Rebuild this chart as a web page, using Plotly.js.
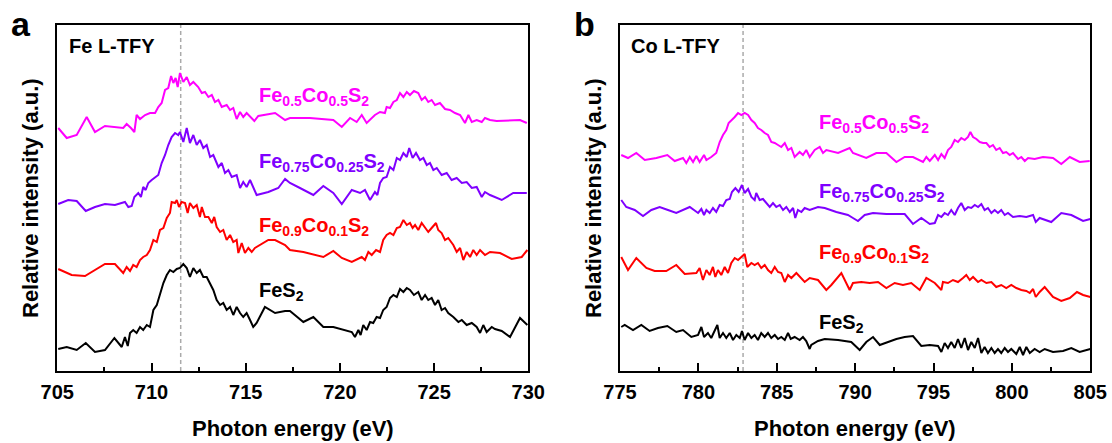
<!DOCTYPE html>
<html>
<head>
<meta charset="utf-8">
<script src="https://cdn.plot.ly/plotly-3.0.1.min.js"></script>
<style>html,body{margin:0;padding:0;background:#fff}#chart{width:1112px;height:443px}</style>
</head>
<body>
<div id="chart"></div>
<script>
// ---------- Panel a: Fe L-edge TFY (photon energy eV, relative intensity a.u.) ----------
const feL_E_05 = [705.05,705.50,706.03,706.56,707.00,707.53,708.50,708.68,708.91,709.09,709.21,709.39,709.66,709.92,710.19,710.36,710.54,710.72,710.89,711.04,711.16,711.28,711.39,711.51,711.69,711.87,712.04,712.22,712.48,712.67,712.84,713.02,713.20,713.37,713.55,713.73,713.99,714.17,714.34,714.52,714.70,714.87,715.05,715.23,715.46,715.67,716.56,717.09,717.35,718.41,719.65,720.10,720.54,720.89,721.16,721.42,721.60,721.86,722.13,722.39,722.48,722.66,722.84,723.02,723.19,723.37,723.55,723.72,723.93,724.16,724.34,724.52,724.69,724.87,725.05,725.31,725.58,725.84,726.11,726.38,726.64,726.82,727.00,727.26,727.53,727.70,727.97,728.32,729.56,729.92];
const feL_I_05 = [2.43,2.33,2.36,2.54,2.39,2.45,2.43,2.47,2.43,2.39,2.56,2.52,2.56,2.58,2.58,2.64,2.68,2.81,2.83,2.95,2.88,2.93,2.84,2.98,2.89,2.94,2.86,2.89,2.84,2.78,2.79,2.74,2.76,2.69,2.71,2.64,2.66,2.61,2.63,2.52,2.59,2.54,2.58,2.54,2.50,2.55,2.58,2.51,2.53,2.53,2.51,2.44,2.53,2.49,2.56,2.48,2.51,2.56,2.59,2.58,2.64,2.63,2.69,2.71,2.78,2.74,2.79,2.76,2.80,2.78,2.71,2.74,2.69,2.71,2.66,2.68,2.62,2.61,2.58,2.56,2.48,2.56,2.49,2.51,2.49,2.53,2.51,2.50,2.51,2.48];

const feL_E_075 = [705.05,705.58,706.03,706.51,707.00,707.53,708.06,708.59,708.77,708.95,709.09,709.30,709.44,709.56,709.69,709.83,710.01,710.19,710.36,710.54,710.72,710.89,711.07,711.25,711.42,711.51,711.69,711.87,712.04,712.22,712.40,712.57,712.75,712.93,713.11,713.28,713.55,713.73,713.90,714.08,714.26,714.52,714.70,714.87,715.05,715.23,715.40,715.58,716.20,716.73,717.09,717.35,717.88,718.59,719.12,719.65,720.10,720.63,721.07,721.33,721.60,721.86,721.99,722.13,722.30,722.48,722.66,722.84,723.02,723.19,723.37,723.55,723.68,723.86,724.04,724.25,724.43,724.61,724.78,724.96,725.14,725.40,725.67,725.93,726.20,726.47,726.73,727.00,727.26,727.53,727.70,727.97,728.59,729.20,729.92];
const feL_I_075 = [1.67,1.71,1.70,1.60,1.64,1.67,1.66,1.69,1.64,1.65,1.74,1.78,1.74,1.84,1.81,1.88,1.91,1.94,1.96,2.08,2.16,2.26,2.34,2.38,2.36,2.39,2.29,2.43,2.28,2.36,2.26,2.31,2.23,2.26,2.14,2.16,2.04,2.08,1.98,2.01,1.94,1.96,1.83,1.89,1.84,1.91,1.83,1.76,1.79,1.83,1.92,1.88,1.83,1.76,1.85,1.78,1.67,1.81,1.78,1.81,1.71,1.79,1.76,1.88,1.93,1.94,2.04,2.01,2.13,2.11,2.18,2.14,2.23,2.13,2.18,2.11,2.13,2.06,2.08,2.01,2.03,1.96,1.98,1.91,1.93,1.88,1.89,1.83,1.84,1.74,1.79,1.76,1.71,1.78,1.78];

const feL_E_09 = [705.05,705.76,706.47,707.53,708.06,708.50,708.68,708.86,709.03,709.21,709.39,709.56,709.75,709.92,710.10,710.28,710.45,710.63,710.81,710.98,711.07,711.25,711.34,711.46,711.60,711.78,711.92,712.04,712.22,712.40,712.57,712.67,712.84,713.02,713.20,713.33,713.46,713.64,713.81,713.99,714.17,714.34,714.52,714.61,714.79,714.96,715.14,715.32,715.49,716.20,716.56,717.09,717.35,718.06,719.12,719.65,720.10,720.63,721.16,721.33,721.51,721.69,721.92,722.13,722.30,722.48,722.66,722.84,723.02,723.19,723.37,723.55,723.72,723.86,723.99,724.16,724.34,724.52,724.69,724.87,725.10,725.22,725.40,725.58,725.75,726.02,726.20,726.38,726.55,726.73,726.91,727.08,727.26,727.44,727.70,727.97,728.50,729.12,729.65,729.95];
const feL_I_09 = [1.02,0.96,0.95,1.07,1.07,0.98,1.04,1.00,1.06,1.04,1.11,1.14,1.16,1.21,1.31,1.29,1.41,1.43,1.53,1.58,1.69,1.68,1.71,1.64,1.69,1.68,1.58,1.68,1.63,1.66,1.54,1.64,1.54,1.54,1.48,1.54,1.44,1.39,1.41,1.31,1.36,1.29,1.31,1.18,1.28,1.18,1.23,1.19,1.23,1.31,1.31,1.26,1.21,1.19,1.14,1.20,1.13,1.09,1.14,1.11,1.19,1.16,1.21,1.19,1.31,1.36,1.38,1.36,1.43,1.44,1.51,1.46,1.48,1.43,1.46,1.41,1.48,1.43,1.39,1.43,1.48,1.41,1.38,1.31,1.33,1.26,1.19,1.23,1.11,1.19,1.14,1.21,1.16,1.21,1.16,1.19,1.18,1.12,1.14,1.21];

const feL_E_10 = [705.05,705.50,706.03,706.51,707.00,707.53,708.03,708.42,708.59,708.74,708.86,709.03,709.21,709.39,709.56,709.75,709.92,710.10,710.28,710.45,710.63,710.81,710.98,711.16,711.34,711.51,711.69,711.87,712.04,712.22,712.40,712.57,712.75,712.93,713.11,713.28,713.46,713.64,713.81,713.99,714.17,714.34,714.52,714.70,714.87,715.05,715.23,715.40,715.58,716.02,716.56,717.09,717.35,718.06,718.59,719.12,719.65,720.18,720.63,720.80,720.98,721.10,721.24,721.42,721.60,721.77,721.95,722.13,722.30,722.48,722.66,722.84,723.02,723.19,723.37,723.55,723.72,723.93,724.16,724.34,724.52,724.69,724.87,725.05,725.22,725.40,725.58,725.75,726.02,726.29,726.47,726.73,727.00,727.26,727.44,727.61,727.79,728.06,728.23,728.59,729.03,729.56,729.95];
const feL_I_10 = [0.22,0.24,0.21,0.28,0.19,0.21,0.33,0.24,0.34,0.25,0.38,0.41,0.38,0.44,0.41,0.46,0.44,0.61,0.66,0.78,0.88,0.96,1.01,0.99,1.02,1.03,1.07,1.03,0.94,1.03,0.98,1.01,0.94,0.94,0.88,0.81,0.71,0.66,0.68,0.61,0.64,0.56,0.64,0.58,0.54,0.58,0.51,0.44,0.48,0.64,0.58,0.60,0.60,0.49,0.54,0.44,0.44,0.41,0.39,0.34,0.41,0.36,0.46,0.41,0.49,0.48,0.54,0.53,0.61,0.64,0.73,0.76,0.74,0.82,0.79,0.83,0.81,0.76,0.79,0.71,0.76,0.71,0.73,0.66,0.71,0.61,0.63,0.58,0.54,0.49,0.51,0.46,0.48,0.44,0.38,0.46,0.39,0.44,0.42,0.40,0.34,0.53,0.46];

// ---------- Panel b: Co L-edge TFY ----------
const coL_E_05 = [775.08,775.51,776.04,776.58,777.32,778.02,778.49,779.02,779.23,779.45,779.66,779.87,780.08,780.36,780.51,780.82,781.14,781.36,781.57,781.78,781.93,782.14,782.32,782.53,782.74,782.95,783.17,783.38,783.59,783.80,784.01,784.23,784.44,784.65,784.87,785.08,785.29,785.51,785.72,785.93,786.14,786.46,786.67,786.88,787.10,787.42,787.74,787.95,788.16,788.91,789.65,789.86,790.71,791.35,791.99,792.63,793.16,793.69,794.33,794.54,794.76,795.08,795.29,795.50,795.71,795.92,796.13,796.35,796.56,796.77,796.99,797.20,797.35,797.52,797.73,797.95,798.16,798.37,798.58,798.79,799.00,799.22,799.43,799.64,799.86,800.07,800.39,800.60,800.82,801.03,801.45,801.98,802.62,803.15,803.69,804.32,804.96];
const coL_I_05 = [2.16,2.13,2.18,2.11,2.13,2.16,2.10,2.13,2.08,2.14,2.09,2.15,2.09,2.16,2.11,2.14,2.18,2.29,2.36,2.41,2.48,2.51,2.54,2.58,2.56,2.58,2.56,2.51,2.48,2.43,2.41,2.38,2.36,2.29,2.28,2.26,2.24,2.28,2.21,2.23,2.14,2.19,2.16,2.21,2.14,2.21,2.24,2.18,2.21,2.18,2.23,2.18,2.13,2.18,2.18,2.09,2.14,2.14,2.09,2.14,2.10,2.16,2.11,2.17,2.13,2.21,2.24,2.31,2.29,2.33,2.31,2.34,2.39,2.34,2.32,2.29,2.28,2.28,2.24,2.26,2.21,2.23,2.18,2.19,2.16,2.18,2.12,2.14,2.10,2.13,2.12,2.14,2.13,2.07,2.14,2.09,2.10];

const coL_E_075 = [775.08,775.40,775.94,776.47,777.00,777.53,778.06,778.59,779.45,779.98,780.19,780.36,780.51,780.72,780.93,781.14,781.36,781.57,781.78,782.00,782.14,782.36,782.57,782.78,782.95,783.17,783.38,783.59,783.69,783.91,784.12,784.33,784.55,784.76,784.97,785.19,785.40,785.61,785.83,786.04,786.18,786.35,786.57,786.78,787.10,787.63,788.06,788.80,789.54,789.86,790.18,790.61,791.14,791.99,793.16,793.69,794.22,794.76,795.08,795.29,795.50,795.71,795.92,796.13,796.35,796.56,796.77,796.99,797.20,797.41,797.63,797.84,798.05,798.26,798.47,798.69,798.90,799.11,799.32,799.54,799.75,800.07,800.50,800.92,801.35,801.52,801.77,802.51,803.15,803.79,804.54,805.00];
const coL_I_075 = [1.71,1.64,1.61,1.55,1.61,1.64,1.61,1.58,1.64,1.58,1.62,1.56,1.61,1.58,1.63,1.59,1.66,1.65,1.71,1.72,1.79,1.83,1.79,1.86,1.78,1.82,1.74,1.71,1.78,1.71,1.72,1.68,1.64,1.68,1.64,1.66,1.61,1.64,1.59,1.63,1.53,1.61,1.59,1.63,1.61,1.64,1.63,1.59,1.56,1.53,1.50,1.56,1.58,1.57,1.57,1.47,1.53,1.47,1.48,1.56,1.54,1.58,1.56,1.61,1.56,1.63,1.68,1.61,1.64,1.63,1.66,1.64,1.67,1.61,1.63,1.58,1.61,1.58,1.61,1.56,1.58,1.54,1.55,1.54,1.56,1.49,1.53,1.49,1.58,1.56,1.50,1.52];

const coL_E_09 = [775.08,775.51,776.04,776.68,777.21,777.95,778.59,779.13,779.87,780.08,780.29,780.51,780.72,780.93,781.08,781.25,781.46,781.68,781.89,782.10,782.32,782.53,782.74,782.95,783.12,783.38,783.59,783.80,784.01,784.23,784.44,784.65,784.87,785.08,785.29,785.51,785.72,785.93,786.25,786.46,786.78,787.10,787.63,788.16,788.48,789.12,789.65,789.86,790.39,790.93,791.46,791.99,792.52,793.05,793.58,794.12,794.54,795.08,795.50,795.60,795.92,796.24,796.56,796.88,797.09,797.31,797.52,797.84,798.05,798.37,798.69,799.00,799.32,799.64,799.96,800.28,800.60,800.92,801.14,801.35,801.52,801.77,802.09,802.62,803.15,803.69,804.15,804.54,805.00];
const coL_I_09 = [1.14,1.01,1.13,1.03,1.00,1.00,1.06,0.97,0.98,1.03,0.91,1.01,0.96,1.04,0.94,1.01,0.96,1.04,0.98,1.08,1.13,1.11,1.14,1.17,1.04,1.08,1.06,1.08,1.03,1.06,1.01,0.98,1.04,0.99,0.98,0.89,0.96,0.93,0.98,0.94,0.89,0.93,0.91,0.81,0.86,0.98,0.81,0.88,0.89,0.88,0.89,0.83,0.88,0.86,0.88,0.81,0.93,0.88,0.81,0.89,0.88,0.91,0.89,0.93,0.96,0.91,0.94,0.89,0.91,0.88,0.89,0.84,0.86,0.83,0.86,0.83,0.81,0.80,0.78,0.82,0.74,0.79,0.84,0.74,0.70,0.73,0.79,0.76,0.74];

const coL_E_10 = [775.08,775.30,775.83,776.36,776.89,777.42,778.02,778.59,779.02,779.55,779.98,780.19,780.36,780.61,780.82,781.04,781.21,781.36,781.57,781.78,782.00,782.21,782.42,782.64,782.78,782.95,783.17,783.38,783.59,783.80,784.01,784.23,784.44,784.65,784.87,785.08,785.29,785.51,785.72,785.89,786.14,786.46,786.67,786.88,787.10,787.20,787.63,788.06,788.91,789.75,790.29,790.71,791.14,791.57,792.10,792.63,793.16,793.69,794.22,794.76,795.29,795.50,795.71,795.92,796.13,796.35,796.56,796.77,796.99,797.20,797.41,797.63,797.84,798.05,798.26,798.47,798.69,798.90,799.11,799.32,799.54,799.75,799.96,800.28,800.50,800.71,800.92,801.14,801.45,801.77,802.09,802.62,803.26,803.79,804.32,805.00];
const coL_I_10 = [0.44,0.46,0.41,0.46,0.40,0.43,0.45,0.39,0.41,0.34,0.36,0.44,0.34,0.38,0.33,0.41,0.46,0.33,0.38,0.33,0.38,0.31,0.36,0.33,0.40,0.31,0.38,0.33,0.36,0.31,0.38,0.34,0.38,0.33,0.36,0.32,0.34,0.31,0.38,0.32,0.34,0.31,0.34,0.30,0.22,0.26,0.30,0.32,0.31,0.29,0.21,0.29,0.34,0.26,0.29,0.32,0.34,0.35,0.25,0.26,0.25,0.19,0.28,0.23,0.29,0.23,0.32,0.23,0.33,0.21,0.29,0.23,0.33,0.18,0.24,0.18,0.23,0.18,0.22,0.18,0.23,0.19,0.22,0.17,0.24,0.16,0.24,0.18,0.22,0.19,0.22,0.19,0.20,0.23,0.19,0.22];

// Reference peak positions (dashed lines), eV
const feRefLine = 711.55;
const coRefLine = 782.85;

// Series names and colours
const seriesNames = ['Fe<sub>0.5</sub>Co<sub>0.5</sub>S<sub>2</sub>', 'Fe<sub>0.75</sub>Co<sub>0.25</sub>S<sub>2</sub>', 'Fe<sub>0.9</sub>Co<sub>0.1</sub>S<sub>2</sub>', 'FeS<sub>2</sub>'];
const seriesColors = ['#FF00FF', '#7F00FF', '#FF0000', '#000000'];

const feSeries = [[feL_E_05, feL_I_05], [feL_E_075, feL_I_075], [feL_E_09, feL_I_09], [feL_E_10, feL_I_10]];
const coSeries = [[coL_E_05, coL_I_05], [coL_E_075, coL_I_075], [coL_E_09, coL_I_09], [coL_E_10, coL_I_10]];

// label anchor positions (data coords)
const feLabelX = [715.6, 715.6, 715.6, 715.6];
const feLabelY = [2.75, 2.09, 1.45, 0.80];
const coLabelX = [787.55, 787.55, 787.55, 787.55];
const coLabelY = [2.48, 1.79, 1.18, 0.48];

const traces = [];
feSeries.forEach((s, i) => traces.push({x: s[0], y: s[1], type: 'scatter', mode: 'lines', xaxis: 'x', yaxis: 'y', line: {color: seriesColors[i], width: 2}, hoverinfo: 'skip'}));
coSeries.forEach((s, i) => traces.push({x: s[0], y: s[1], type: 'scatter', mode: 'lines', xaxis: 'x2', yaxis: 'y2', line: {color: seriesColors[i], width: 2}, hoverinfo: 'skip'}));

const W = 1112, H = 443;
const FONT = 'Arial, "Liberation Sans", sans-serif';
const tickFont = {family: FONT, size: 20, color: '#000', weight: 'bold'};

function xAxis(range, domain, anchor) {
  return {
    domain: domain, range: range, anchor: anchor, dtick: 5, tick0: range[0],
    ticks: 'inside', ticklen: 8, tickwidth: 2, tickcolor: '#000',
    minor: {dtick: 2.5, ticks: 'inside', ticklen: 4, tickwidth: 2, tickcolor: '#000'},
    showline: true, linewidth: 2, linecolor: '#000', mirror: true,
    showgrid: false, zeroline: false, tickfont: tickFont, ticklabelstandoff: 2, fixedrange: true
  };
}
function yAxis(domain, anchor) {
  return {
    domain: domain, range: [0, 3.46], anchor: anchor, showticklabels: false, ticks: '',
    showline: true, linewidth: 2, linecolor: '#000', mirror: true,
    showgrid: false, zeroline: false, fixedrange: true
  };
}

const yDom = [(H - 371) / H, (H - 25) / H];
const annotations = [];
function ann(o) { annotations.push(Object.assign({showarrow: false, font: {family: FONT, size: 20, color: '#000', weight: 'bold'}}, o)); }

// panel letters
ann({text: 'a', xref: 'paper', yref: 'paper', x: 9 / W, y: 1 - 24 / H, xanchor: 'left', yanchor: 'middle', font: {family: FONT, size: 34, color: '#000', weight: 'bold'}});
ann({text: 'b', xref: 'paper', yref: 'paper', x: 572 / W, y: 1 - 24 / H, xanchor: 'left', yanchor: 'middle', font: {family: FONT, size: 34, color: '#000', weight: 'bold'}});
// panel headers
ann({text: 'Fe L-TFY', xref: 'paper', yref: 'paper', x: 67 / W, y: 1 - 46 / H, xanchor: 'left', yanchor: 'middle'});
ann({text: 'Co L-TFY', xref: 'paper', yref: 'paper', x: 629 / W, y: 1 - 46 / H, xanchor: 'left', yanchor: 'middle'});
// axis titles
ann({text: 'Photon energy (eV)', xref: 'paper', yref: 'paper', x: 292.8 / W, y: 1 - 428 / H, xanchor: 'center', yanchor: 'middle', font: {family: FONT, size: 22, color: '#000', weight: 'bold'}});
ann({text: 'Photon energy (eV)', xref: 'paper', yref: 'paper', x: 855.2 / W, y: 1 - 428 / H, xanchor: 'center', yanchor: 'middle', font: {family: FONT, size: 22, color: '#000', weight: 'bold'}});
ann({text: 'Relative intensity (a.u.)', xref: 'paper', yref: 'paper', x: 30 / W, y: 1 - 198 / H, textangle: -90, xanchor: 'center', yanchor: 'middle', font: {family: FONT, size: 22, color: '#000', weight: 'bold'}});
ann({text: 'Relative intensity (a.u.)', xref: 'paper', yref: 'paper', x: 593 / W, y: 1 - 198 / H, textangle: -90, xanchor: 'center', yanchor: 'middle', font: {family: FONT, size: 22, color: '#000', weight: 'bold'}});
// series labels
seriesNames.forEach((n, i) => {
  ann({text: n, xref: 'x', yref: 'y', x: feLabelX[i], y: feLabelY[i], xanchor: 'left', yanchor: 'middle', font: {family: FONT, size: 20, color: seriesColors[i], weight: 'bold'}});
  ann({text: n, xref: 'x2', yref: 'y2', x: coLabelX[i], y: coLabelY[i], xanchor: 'left', yanchor: 'middle', font: {family: FONT, size: 20, color: seriesColors[i], weight: 'bold'}});
});

const shapes = [
  {type: 'line', xref: 'x', yref: 'y domain', x0: feRefLine, x1: feRefLine, y0: 0, y1: 1, line: {color: '#AAAAAA', width: 1.5, dash: '4px,3px'}, layer: 'below'},
  {type: 'line', xref: 'x2', yref: 'y2 domain', x0: coRefLine, x1: coRefLine, y0: 0, y1: 1, line: {color: '#AAAAAA', width: 1.5, dash: '4px,3px'}, layer: 'below'}
];

const layout = {
  width: W, height: H, margin: {l: 0, r: 0, t: 0, b: 0},
  paper_bgcolor: '#fff', plot_bgcolor: '#fff', showlegend: false,
  xaxis: xAxis([705, 730], [57.3 / W, 528.3 / W], 'y'),
  yaxis: yAxis(yDom, 'x'),
  xaxis2: xAxis([775, 805], [620 / W, 1090.3 / W], 'y2'),
  yaxis2: yAxis(yDom, 'x2'),
  annotations: annotations, shapes: shapes
};

Plotly.newPlot('chart', traces, layout, {staticPlot: true, displayModeBar: false});
</script>
</body>
</html>
